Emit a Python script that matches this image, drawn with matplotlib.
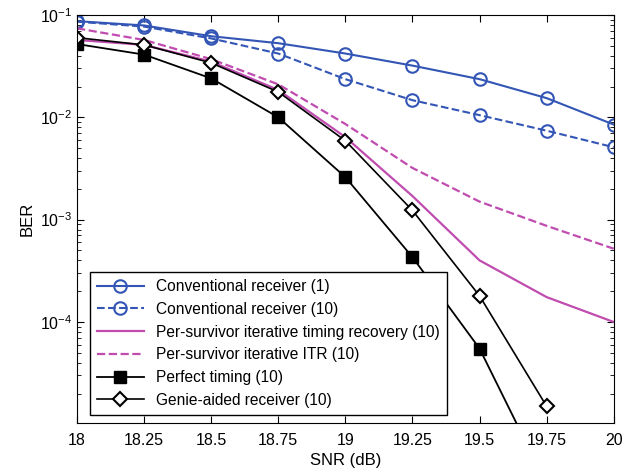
import matplotlib
matplotlib.use("Agg")
import matplotlib.pyplot as plt
import numpy as np

plt.rcParams['font.family'] = ['Liberation Sans', 'DejaVu Sans']
plt.rcParams['mathtext.fontset'] = 'custom'
plt.rcParams['mathtext.rm'] = 'Liberation Sans'

# data
snr = [18, 18.25, 18.5, 18.75, 19, 19.25, 19.5, 19.75, 20]
conv_1 = [0.087, 0.079, 0.062, 0.053, 0.042, 0.032, 0.0236, 0.0154, 0.0085]
conv_10 = [0.086, 0.077, 0.059, 0.042, 0.0236, 0.0147, 0.0105, 0.0074, 0.0051]
psitr = [0.057, 0.051, 0.035, 0.0185, 0.0064, 0.0017, 4.0e-4, 1.75e-4, 1.0e-4]
psitr_dash = [0.074, 0.057, 0.037, 0.021, 0.0086, 0.0032, 0.0015, 8.7e-4, 5.2e-4]
perfect = [0.052, 0.041, 0.024, 0.010, 0.0026, 4.3e-4, 5.5e-5, 2.6e-6]
genie = [0.060, 0.051, 0.034, 0.0177, 0.0059, 0.00123, 1.8e-4, 1.5e-5]

xticks = [18, 18.25, 18.5, 18.75, 19, 19.25, 19.5, 19.75, 20]
xticklabels = ['18', '18.25', '18.5', '18.75', '19', '19.25', '19.5', '19.75', '20']

blue = '#3355b5'
magenta = '#c04cb0'

fig = plt.figure(figsize=(6.34, 4.74), dpi=100)
ax = fig.add_axes([0.1215, 0.1076, 0.8465, 0.8608])

ax.semilogy(snr, conv_1, '-o', color=blue, lw=1.5, ms=9, mfc='none', mew=1.5,
            label='Conventional receiver (1)')
ax.semilogy(snr, conv_10, '--o', color=blue, lw=1.5, ms=9, mfc='none', mew=1.5,
            label='Conventional receiver (10)')
ax.semilogy(snr, psitr, '-', color=magenta, lw=1.6,
            label='Per-survivor iterative timing recovery (10)')
ax.semilogy(snr, psitr_dash, '--', color=magenta, lw=1.6,
            label='Per-survivor iterative ITR (10)')
ax.semilogy(snr[:len(perfect)], perfect, '-s', color='black', lw=1.3, ms=8,
            label='Perfect timing (10)')
ax.semilogy(snr[:len(genie)], genie, '-D', color='black', lw=1.2, ms=7, mfc='white', mew=1.5,
            label='Genie-aided receiver (10)')

ax.set_xlim(18, 20)
ax.set_ylim(1.03e-5, 1e-1)
ax.set_xticks(xticks)
ax.set_xticklabels(xticklabels)
ax.tick_params(which='both', direction='in', top=True, right=True, labelsize=11.5)
ax.tick_params(which='major', length=5)
ax.tick_params(which='minor', length=3)
ax.tick_params(axis='x', which='major', pad=7)
ax.tick_params(axis='x', which='minor', top=False, bottom=False)
ax.set_xlabel('SNR (dB)', fontsize=12, labelpad=4)
ax.set_ylabel('BER', fontsize=12, labelpad=4)

leg = ax.legend(loc='lower left', bbox_to_anchor=(0.024, 0.02), fontsize=11.2,
                handlelength=3.0, labelspacing=0.5, borderpad=0.45,
                fancybox=False, framealpha=1, borderaxespad=0)
leg.get_frame().set_edgecolor('black')
leg.get_frame().set_linewidth(1.0)

fig.savefig('out.png', dpi=100)
